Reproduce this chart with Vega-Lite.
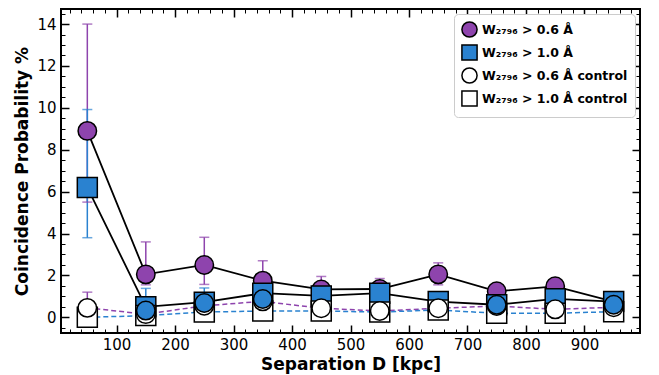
{
  "$schema": "https://vega.github.io/schema/vega-lite/v6.json",
  "width": 579,
  "height": 324,
  "autosize": {"type": "none"},
  "padding": {"left": 61, "top": 9, "right": 19, "bottom": 42},
  "background": "white",
  "config": {
    "view": {"stroke": "black", "strokeWidth": 2},
    "axis": {
      "domain": false,
      "grid": false,
      "tickColor": "black",
      "labelColor": "black",
      "labelFont": "DejaVu Sans",
      "labelFontSize": 15,
      "titleFont": "DejaVu Sans",
      "titleFontSize": 17,
      "titleFontWeight": "bold",
      "titleColor": "black"
    },
    "legend": {
      "labelFont": "DejaVu Sans",
      "labelFontWeight": "bold",
      "labelFontSize": 12.5,
      "labelColor": "black",
      "symbolSize": 230,
      "symbolStrokeWidth": 1.5,
      "symbolStrokeColor": "black",
      "symbolOpacity": 1,
      "rowPadding": 0,
      "padding": 7,
      "fillColor": "white",
      "strokeColor": "#cccccc",
      "cornerRadius": 4,
      "labelLimit": 300
    }
  },
  "data": {
    "values": [
      {"series": "W₂₇₉₆ > 0.6 Å", "x": 50, "y": 8.9, "lo": 5.5, "hi": 14.0},
      {"series": "W₂₇₉₆ > 0.6 Å", "x": 150, "y": 2.05, "lo": 1.55, "hi": 3.6},
      {"series": "W₂₇₉₆ > 0.6 Å", "x": 250, "y": 2.5, "lo": 1.57, "hi": 3.82},
      {"series": "W₂₇₉₆ > 0.6 Å", "x": 350, "y": 1.75, "lo": 0.85, "hi": 2.7},
      {"series": "W₂₇₉₆ > 0.6 Å", "x": 450, "y": 1.33, "lo": 0.8, "hi": 1.95},
      {"series": "W₂₇₉₆ > 0.6 Å", "x": 550, "y": 1.35, "lo": 0.85, "hi": 1.85},
      {"series": "W₂₇₉₆ > 0.6 Å", "x": 650, "y": 2.05, "lo": 1.55, "hi": 2.6},
      {"series": "W₂₇₉₆ > 0.6 Å", "x": 750, "y": 1.24, "lo": 0.9, "hi": 1.6},
      {"series": "W₂₇₉₆ > 0.6 Å", "x": 850, "y": 1.48, "lo": 1.2, "hi": 1.75},
      {"series": "W₂₇₉₆ > 0.6 Å", "x": 950, "y": 0.75, "lo": 0.6, "hi": 0.9},
      {"series": "W₂₇₉₆ > 1.0 Å", "x": 50, "y": 6.2, "lo": 3.8, "hi": 9.92},
      {"series": "W₂₇₉₆ > 1.0 Å", "x": 150, "y": 0.5, "lo": 0.05, "hi": 1.38},
      {"series": "W₂₇₉₆ > 1.0 Å", "x": 250, "y": 0.72, "lo": 0.1, "hi": 1.4},
      {"series": "W₂₇₉₆ > 1.0 Å", "x": 350, "y": 1.15, "lo": 0.6, "hi": 1.6},
      {"series": "W₂₇₉₆ > 1.0 Å", "x": 450, "y": 1.02, "lo": 0.6, "hi": 1.4},
      {"series": "W₂₇₉₆ > 1.0 Å", "x": 550, "y": 1.15, "lo": 0.8, "hi": 1.5},
      {"series": "W₂₇₉₆ > 1.0 Å", "x": 650, "y": 0.75, "lo": 0.5, "hi": 1.0},
      {"series": "W₂₇₉₆ > 1.0 Å", "x": 750, "y": 0.6, "lo": 0.35, "hi": 0.85},
      {"series": "W₂₇₉₆ > 1.0 Å", "x": 850, "y": 0.88, "lo": 0.6, "hi": 1.15},
      {"series": "W₂₇₉₆ > 1.0 Å", "x": 950, "y": 0.75, "lo": 0.5, "hi": 1.0},
      {"series": "W₂₇₉₆ > 0.6 Å control", "x": 50, "y": 0.45, "lo": 0.0, "hi": 1.2},
      {"series": "W₂₇₉₆ > 0.6 Å control", "x": 150, "y": 0.15, "lo": 0.0, "hi": 0.4},
      {"series": "W₂₇₉₆ > 0.6 Å control", "x": 250, "y": 0.55, "lo": 0.3, "hi": 0.8},
      {"series": "W₂₇₉₆ > 0.6 Å control", "x": 350, "y": 0.76, "lo": 0.5, "hi": 1.0},
      {"series": "W₂₇₉₆ > 0.6 Å control", "x": 450, "y": 0.43, "lo": 0.25, "hi": 0.6},
      {"series": "W₂₇₉₆ > 0.6 Å control", "x": 550, "y": 0.3, "lo": 0.15, "hi": 0.45},
      {"series": "W₂₇₉₆ > 0.6 Å control", "x": 650, "y": 0.43, "lo": 0.28, "hi": 0.58},
      {"series": "W₂₇₉₆ > 0.6 Å control", "x": 750, "y": 0.54, "lo": 0.38, "hi": 0.7},
      {"series": "W₂₇₉₆ > 0.6 Å control", "x": 850, "y": 0.38, "lo": 0.25, "hi": 0.52},
      {"series": "W₂₇₉₆ > 0.6 Å control", "x": 950, "y": 0.48, "lo": 0.33, "hi": 0.62},
      {"series": "W₂₇₉₆ > 1.0 Å control", "x": 50, "y": 0.0, "lo": -0.05, "hi": 0.1},
      {"series": "W₂₇₉₆ > 1.0 Å control", "x": 150, "y": 0.08, "lo": 0.0, "hi": 0.2},
      {"series": "W₂₇₉₆ > 1.0 Å control", "x": 250, "y": 0.25, "lo": 0.12, "hi": 0.38},
      {"series": "W₂₇₉₆ > 1.0 Å control", "x": 350, "y": 0.3, "lo": 0.15, "hi": 0.45},
      {"series": "W₂₇₉₆ > 1.0 Å control", "x": 450, "y": 0.3, "lo": 0.18, "hi": 0.42},
      {"series": "W₂₇₉₆ > 1.0 Å control", "x": 550, "y": 0.25, "lo": 0.15, "hi": 0.35},
      {"series": "W₂₇₉₆ > 1.0 Å control", "x": 650, "y": 0.35, "lo": 0.25, "hi": 0.45},
      {"series": "W₂₇₉₆ > 1.0 Å control", "x": 750, "y": 0.19, "lo": 0.1, "hi": 0.28},
      {"series": "W₂₇₉₆ > 1.0 Å control", "x": 850, "y": 0.19, "lo": 0.1, "hi": 0.28},
      {"series": "W₂₇₉₆ > 1.0 Å control", "x": 950, "y": 0.27, "lo": 0.17, "hi": 0.37},
      {"series": "extra", "x": 150, "y": 0.32},
      {"series": "extra", "x": 250, "y": 0.68},
      {"series": "extra", "x": 350, "y": 0.87},
      {"series": "extra", "x": 750, "y": 0.6},
      {"series": "extra", "x": 950, "y": 0.6}
    ]
  },
  "resolve": {"axis": {"x": "independent", "y": "independent"}},
  "layer": [
    {
      "transform": [{"filter": "indexof(datum.series, 'control') >= 0"}],
      "mark": {"type": "line", "strokeDash": [5, 3], "strokeWidth": 1.5},
      "encoding": {
        "x": {"field": "x", "type": "quantitative", "scale": {"domain": [5, 995], "nice": false, "zero": false},
          "axis": {"orient": "top", "title": null, "labels": false, "values": [20,40,60,80,120,140,160,180,220,240,260,280,320,340,360,380,420,440,460,480,520,540,560,580,620,640,660,680,720,740,760,780,820,840,860,880,920,940,960,980], "tickSize": -4, "tickWidth": 1}},
        "y": {"field": "y", "type": "quantitative", "scale": {"domain": [-0.75, 14.72], "nice": false, "zero": false},
          "axis": {"orient": "right", "title": null, "labels": false, "values": [-0.5,0.5,1,1.5,2.5,3,3.5,4.5,5,5.5,6.5,7,7.5,8.5,9,9.5,10.5,11,11.5,12.5,13,13.5,14.5], "tickSize": -4, "tickWidth": 1}},
        "stroke": {"field": "series", "type": "nominal", "scale": {"domain": ["W₂₇₉₆ > 0.6 Å", "W₂₇₉₆ > 1.0 Å", "W₂₇₉₆ > 0.6 Å control", "W₂₇₉₆ > 1.0 Å control", "extra"], "range": ["#8e44ad", "#2a82d0", "#8e44ad", "#2a82d0", "#2a82d0"]}, "legend": null}
      }
    },
    {
      "transform": [{"filter": "datum.series === 'W₂₇₉₆ > 0.6 Å' || datum.series === 'W₂₇₉₆ > 1.0 Å'"}],
      "mark": {"type": "line", "color": "black", "strokeWidth": 1.8},
      "encoding": {
        "x": {"field": "x", "type": "quantitative", "axis": {"orient": "top", "title": null, "labels": false, "values": [100,200,300,400,500,600,700,800,900], "tickSize": -8, "tickWidth": 1.5}},
        "y": {"field": "y", "type": "quantitative", "axis": {"orient": "right", "title": null, "labels": false, "values": [0,2,4,6,8,10,12,14], "tickSize": -8, "tickWidth": 1.5}},
        "detail": {"field": "series"}
      }
    },
    {
      "transform": [{"filter": "datum.series !== 'extra'"}],
      "mark": {"type": "rule", "strokeWidth": 1.5},
      "encoding": {
        "x": {"field": "x", "type": "quantitative", "axis": {"orient": "bottom", "title": "Separation D [kpc]", "values": [100,200,300,400,500,600,700,800,900], "tickSize": -8, "tickWidth": 1.5, "labelPadding": 12, "titlePadding": 4}},
        "y": {"field": "lo", "type": "quantitative", "axis": {"orient": "left", "title": "Coincidence Probability %", "values": [0,2,4,6,8,10,12,14], "tickSize": -8, "tickWidth": 1.5, "labelPadding": 13, "titlePadding": 5}},
        "y2": {"field": "hi"},
        "stroke": {"field": "series", "type": "nominal", "legend": null}
      }
    },
    {
      "transform": [{"filter": "datum.series !== 'extra'"}],
      "mark": {"type": "tick", "orient": "horizontal", "size": 10, "thickness": 1.5},
      "encoding": {
        "x": {"field": "x", "type": "quantitative", "axis": {"orient": "bottom", "title": null, "labels": false, "values": [20,40,60,80,120,140,160,180,220,240,260,280,320,340,360,380,420,440,460,480,520,540,560,580,620,640,660,680,720,740,760,780,820,840,860,880,920,940,960,980], "tickSize": -4, "tickWidth": 1}},
        "y": {"field": "lo", "type": "quantitative", "axis": {"orient": "left", "title": null, "labels": false, "values": [-0.5,0.5,1,1.5,2.5,3,3.5,4.5,5,5.5,6.5,7,7.5,8.5,9,9.5,10.5,11,11.5,12.5,13,13.5,14.5], "tickSize": -4, "tickWidth": 1}},
        "color": {"field": "series", "type": "nominal", "scale": {"domain": ["W₂₇₉₆ > 0.6 Å", "W₂₇₉₆ > 1.0 Å", "W₂₇₉₆ > 0.6 Å control", "W₂₇₉₆ > 1.0 Å control", "extra"], "range": ["#8e44ad", "#2a82d0", "#8e44ad", "#2a82d0", "#2a82d0"]}, "legend": null}
      }
    },
    {
      "transform": [{"filter": "datum.series !== 'extra'"}],
      "mark": {"type": "tick", "orient": "horizontal", "size": 10, "thickness": 1.5},
      "encoding": {
        "x": {"field": "x", "type": "quantitative", "axis": null},
        "y": {"field": "hi", "type": "quantitative", "axis": null},
        "color": {"field": "series", "type": "nominal", "legend": null}
      }
    },
    {
      "transform": [{"filter": "datum.series === 'W₂₇₉₆ > 0.6 Å'"}],
      "mark": {"type": "point", "filled": true, "size": 340, "stroke": "black", "strokeWidth": 1.5, "opacity": 1},
      "encoding": {
        "x": {"field": "x", "type": "quantitative", "axis": null},
        "y": {"field": "y", "type": "quantitative", "axis": null},
        "fill": {"field": "series", "type": "nominal", "title": null, "scale": {"domain": ["W₂₇₉₆ > 0.6 Å", "W₂₇₉₆ > 1.0 Å", "W₂₇₉₆ > 0.6 Å control", "W₂₇₉₆ > 1.0 Å control"], "range": ["#8e44ad", "#2a82d0", "white", "white"]},
          "legend": {"orient": "top-right", "offset": 5, "title": null, "symbolSize": 230, "rowPadding": 0, "encode": {"symbols": {"update": {"stroke": {"value": "black"}, "strokeWidth": {"value": 1.5}}}}}},
        "shape": {"field": "series", "type": "nominal", "title": null, "scale": {"domain": ["W₂₇₉₆ > 0.6 Å", "W₂₇₉₆ > 1.0 Å", "W₂₇₉₆ > 0.6 Å control", "W₂₇₉₆ > 1.0 Å control"], "range": ["circle", "square", "circle", "square"]},
          "legend": {"orient": "top-right", "offset": 5, "title": null, "symbolSize": 230, "rowPadding": 0, "encode": {"symbols": {"update": {"stroke": {"value": "black"}, "strokeWidth": {"value": 1.5}}}}}}
      }
    },
    {
      "transform": [{"filter": "datum.series === 'W₂₇₉₆ > 1.0 Å'"}],
      "mark": {"type": "point", "filled": true, "size": 400, "stroke": "black", "strokeWidth": 1.5, "opacity": 1},
      "encoding": {
        "x": {"field": "x", "type": "quantitative", "axis": null},
        "y": {"field": "y", "type": "quantitative", "axis": null},
        "fill": {"field": "series", "type": "nominal", "title": null},
        "shape": {"field": "series", "type": "nominal", "title": null}
      }
    },
    {
      "transform": [{"filter": "datum.series === 'W₂₇₉₆ > 1.0 Å control'"}],
      "mark": {"type": "point", "filled": true, "size": 400, "stroke": "black", "strokeWidth": 1.5, "opacity": 1},
      "encoding": {
        "x": {"field": "x", "type": "quantitative", "axis": null},
        "y": {"field": "y", "type": "quantitative", "axis": null},
        "fill": {"field": "series", "type": "nominal", "title": null},
        "shape": {"field": "series", "type": "nominal", "title": null}
      }
    },
    {
      "transform": [{"filter": "datum.series === 'W₂₇₉₆ > 0.6 Å control'"}],
      "mark": {"type": "point", "filled": true, "size": 340, "stroke": "black", "strokeWidth": 1.5, "opacity": 1},
      "encoding": {
        "x": {"field": "x", "type": "quantitative", "axis": null},
        "y": {"field": "y", "type": "quantitative", "axis": null},
        "fill": {"field": "series", "type": "nominal", "title": null},
        "shape": {"field": "series", "type": "nominal", "title": null}
      }
    },
    {
      "transform": [{"filter": "datum.series === 'extra'"}],
      "mark": {"type": "point", "filled": true, "shape": "circle", "size": 340, "fill": "#2a82d0", "stroke": "black", "strokeWidth": 1.5, "opacity": 1},
      "encoding": {
        "x": {"field": "x", "type": "quantitative", "axis": null},
        "y": {"field": "y", "type": "quantitative", "axis": null}
      }
    }
  ]
}
